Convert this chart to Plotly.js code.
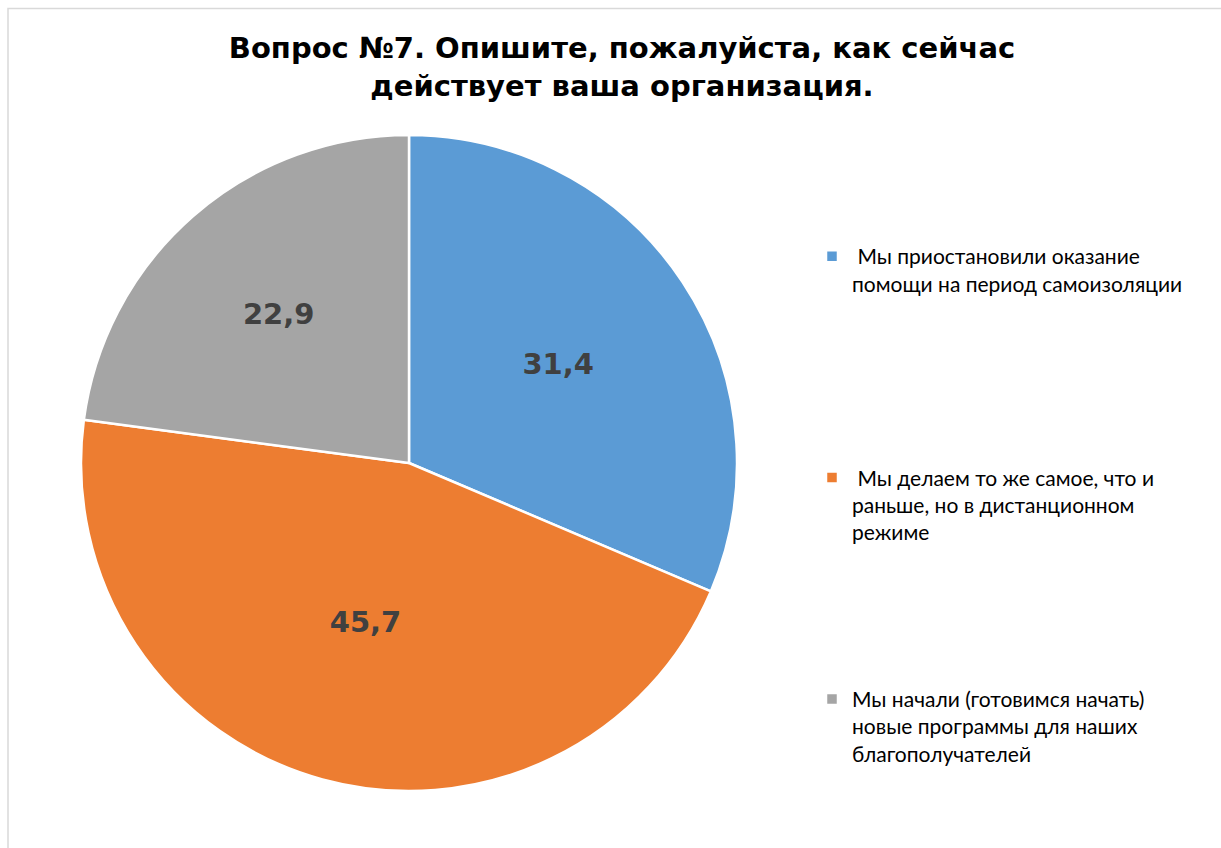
<!DOCTYPE html>
<html>
<head>
<meta charset="utf-8">
<script src="https://cdn.plot.ly/plotly-3.0.1.min.js"></script>
<style>html,body{margin:0;padding:0;background:#fff;}#chart{width:1221px;height:848px;}</style>
</head>
<body>
<div id="chart"></div>
<script>
const titleLines = ["Вопрос №7. Опишите, пожалуйста, как сейчас", "действует ваша организация."];
const categories = [
  [" Мы приостановили оказание", "помощи на период самоизоляции"],
  [" Мы делаем то же самое, что и", "раньше, но в дистанционном", "режиме"],
  ["Мы начали (готовимся начать)", "новые программы для наших", "благополучателей"]
];
const values = [31.4, 45.7, 22.9];
const colors = ["#5B9BD5", "#ED7D31", "#A5A5A5"];

// Legend entries evenly spaced: pad each entry to the same line count
const LINES_PER_ITEM = 8;
const legendLabels = categories.map((lines, i) => {
  const pad = i === categories.length - 1 ? 0 : LINES_PER_ITEM - lines.length;
  return lines.concat(Array(pad).fill("\u00a0")).join("<br>");
});

const trace = {
  type: "pie",
  labels: legendLabels,
  values: values,
  sort: false,
  direction: "clockwise",
  rotation: 0,
  marker: {colors: colors, line: {color: "#FFFFFF", width: 2.5}},
  texttemplate: "%{value:.1f}",
  textposition: "inside",
  insidetextorientation: "horizontal",
  textfont: {family: "DejaVu Sans", size: 29, color: "#404040", weight: "bold"},
  hoverinfo: "label+value",
  domain: {x: [81/1221, 737/1221], y: [1 - 791/848, 1 - 135/848]}
};

const layout = {
  width: 1221, height: 848,
  margin: {l: 0, r: 0, t: 0, b: 0},
  paper_bgcolor: "#FFFFFF",
  separators: ", ",
  title: {
    text: "<b>" + titleLines.join("<br>") + "</b>",
    font: {family: "DejaVu Sans", size: 29, color: "#000000"},
    x: 622/1221, xanchor: "center",
    y: 1 - 58/848, yanchor: "top"
  },
  showlegend: true,
  legend: {
    x: 812/1221, xanchor: "left",
    y: 1 - 236/848, yanchor: "top",
    valign: "top",
    font: {family: "Lato", size: 21, color: "#000000"},
    bgcolor: "rgba(0,0,0,0)",
    tracegroupgap: 0
  },
  shapes: [{
    type: "rect", xref: "paper", yref: "paper",
    x0: 8/1221, x1: 1.02, y0: -0.02, y1: 1 - 8.5/848,
    line: {color: "#D9D9D9", width: 1.5}, fillcolor: "rgba(0,0,0,0)", layer: "below"
  }]
};

Plotly.newPlot("chart", [trace], layout, {displayModeBar: false, responsive: false});
</script>
</body>
</html>
